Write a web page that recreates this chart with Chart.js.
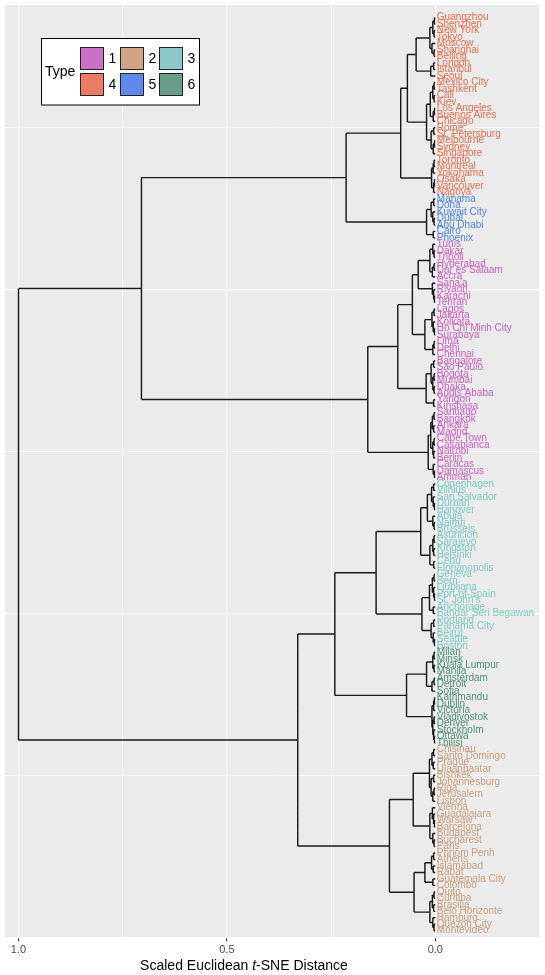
<!DOCTYPE html>
<html><head><meta charset="utf-8">
<script src="https://cdn.jsdelivr.net/npm/chart.js@4/dist/chart.umd.min.js"></script>
<style>html,body{margin:0;padding:0;background:#fff}canvas{display:block}</style>
</head><body>
<canvas id="c" width="545" height="975"></canvas>
<script>
// ---- leaf labels, grouped by type (top to bottom) ----
const type4Cities = ["Guangzhou","Shenzhen","New York","Tokyo","Moscow","Shanghai","Beijing","London","Istanbul","Seoul","Mexico City","Tashkent","Cali","Kiev","Los Angeles","Buenos Aires","Chicago","Rome","St. Petersburg","Melbourne","Sydney","Singapore","Toronto","Montreal","Yokohama","Osaka","Vancouver","Nagoya"];
const type5Cities = ["Manama","Doha","Kuwait City","Dubai","Abu Dhabi","Cairo","Phoenix"];
const type1Cities = ["Tunis","Dakar","Tripoli","Hyderabad","Dar es Salaam","Accra","Sana'a","Riyadh","Karachi","Tehran","Lagos","Jakarta","Kolkata","Ho Chi Minh City","Surabaya","Lima","Delhi","Chennai","Bangalore","Sao Paulo","Bogota","Mumbai","Dhaka","Addis Ababa","Yangon","Kinshasa","Santiago","Bangkok","Ankara","Madrid","Cape Town","Casablanca","Nairobi","Berlin","Caracas","Damascus","Amman"];
const type3Cities = ["Copenhagen","Vilnius","San Salvador","Durban","Hanover","Abuja","Naifati","Brussels","Asuncion","Sarajevo","Kingston","Helsinki","Cebu","Florianopolis","Geneva","Bern","Ljubljana","Port-of-Spain","St. John's","Anchorage","Bandar Seri Begawan","Portland","Panama City","Beirut","Seattle","Boston"];
const type6Cities = ["Milan","Minsk","Kuala Lumpur","Manila","Amsterdam","Detroit","Sofia","Kathmandu","Dublin","Victoria","Vladivostok","Denver","Stockholm","Ottawa","Tbilisi"];
const type2Cities = ["Chisinau","Santo Domingo","Prague","Ulaanbaatar","Bishkek","Johannesburg","Riga","Jerusalem","Lisbon","Vienna","Guadalajara","Warsaw","Barcelona","Budapest","Bucharest","Paris","Phnom Penh","Athens","Islamabad","Rabat","Guatemala City","Colombo","Quito","Curitiba","Brasilia","Belo Horizonte","Hamburg","Quezon City","Montevideo"];

// legend
const typeNames = ["1","2","3","4","5","6"];
const typeFill  = ["#C971C6","#D2A486","#8BCAC6","#EC7B63","#5E88E9","#6A9D89"];
const typeText  = ["#CD5FC2","#C9A17F","#7ECBC4","#E96F4F","#4D86E6","#4F9178"];

// ---- merge trees: [height, left, right]; numbers are leaf indices ----
const treeOrange = [0.083,
  [0.067,
    [0.046,
      [0.013, [0.006,[0.002,0,1],[0.003,2,3]], [0.008,4,[0.003,5,6]]],
      [0.011, [0.004,7,8], 9]],
    [0.021,
      [0.012, [0.006,[0.003,10,11],[0.003,12,13]], [0.005,[0.002,14,15],16]],
      [0.010, [0.004,17,18], [0.005,[0.002,19,20],21]]]],
  [0.009, [0.005,[0.003,22,23],24], [0.004,[0.002,25,26],27]]];
const treeBlue = [0.021, [0.010,[0.004,28,29],[0.006,30,[0.003,31,32]]], [0.005,33,34]];
const treePink = [0.162,
  [0.090,
    [0.055,
      [0.041, [0.013,[0.006,35,[0.003,36,37]],[0.007,[0.003,38,39],40]], [0.007,41,[0.004,42,[0.002,43,44]]]],
      [0.025, [0.008,[0.003,45,46],[0.005,47,[0.002,48,49]]], [0.006,[0.003,50,51],52]]],
    [0.022, [0.010,[0.004,53,54],[0.006,[0.003,55,56],[0.003,57,58]]], [0.004,59,60]]],
  [0.017, [0.011,[0.007,[0.003,61,62],[0.004,63,64]],[0.006,[0.003,65,66],[0.004,67,68]]], [0.005,69,[0.002,70,71]]]];
const treeTeal = [0.142,
  [0.035,
    [0.019, [0.009,[0.004,72,73],[0.005,74,[0.002,75,76]]], [0.006,77,[0.003,78,79]]],
    [0.013, [0.006,[0.003,80,81],[0.004,82,83]], [0.004,84,85]]],
  [0.032,
    [0.014, [0.007,[0.003,86,87],[0.004,88,[0.002,89,90]]], [0.005,91,92]],
    [0.010, [0.004,93,94], [0.005,95,[0.002,96,97]]]]];
const treeGreen = [0.069,
  [0.021, [0.006,[0.003,98,99],[0.003,100,101]], [0.008,[0.003,102,103],104]],
  [0.008, [0.004,[0.002,105,106],107], [0.006,[0.003,108,109],[0.004,110,[0.002,111,112]]]]];
const treeTan = [0.110,
  [0.053,
    [0.014, [0.008,[0.004,113,114],[0.005,115,116]], [0.010,[0.004,117,118],[0.006,[0.003,119,120],121]]],
    [0.013, [0.007,122,[0.004,123,[0.002,124,125]]], [0.006,126,[0.003,127,128]]]],
  [0.051,
    [0.025, [0.009,[0.004,129,130],[0.005,131,132]], [0.006,133,134]],
    [0.013, [0.007,[0.003,135,136],[0.004,137,138]], [0.006,139,[0.003,140,141]]]]];
const tree = [1.0, [0.705, [0.214, treeOrange, treeBlue], treePink], [0.330, [0.241, treeTeal, treeGreen], treeTan]];

const xTickValues = [-0.25, 0, 0.25, 0.5, 0.75, 1.0];
const yTickValues = [0, 25, 50, 75, 100, 125];

// ---- build ----
const groups = [[type4Cities,4],[type5Cities,5],[type1Cities,1],[type3Cities,3],[type6Cities,6],[type2Cities,2]];
const cities = [], cityType = [];
groups.forEach(([arr,t]) => arr.forEach(c => { cities.push(c); cityType.push(t); }));
const N = cities.length;
const leafPos = i => N - i;

const segPoints = [];
function layout(node){
  if (typeof node === 'number') return {y: leafPos(node), h: 0};
  const [h, a, b] = node;
  const L = layout(a), R = layout(b);
  segPoints.push({x:L.h,y:L.y},{x:h,y:L.y},{x:null,y:null});
  segPoints.push({x:R.h,y:R.y},{x:h,y:R.y},{x:null,y:null});
  segPoints.push({x:h,y:L.y},{x:h,y:R.y},{x:null,y:null});
  return {y:(L.y+R.y)/2, h};
}
layout(tree);

const FONT = '"Liberation Sans", Arial, Helvetica, sans-serif';
const isMajorX = v => Math.abs(Math.round(v*2) - v*2) < 1e-9;
const isMajorY = v => v % 50 === 0;

const panelPlugin = {
  id:'panel',
  beforeDraw(chart){
    const {ctx, chartArea:a} = chart;
    ctx.save();
    ctx.fillStyle = '#ffffff'; ctx.fillRect(0,0,chart.width,chart.height);
    ctx.fillStyle = '#EBEBEB'; ctx.fillRect(a.left,a.top,a.right-a.left,a.bottom-a.top);
    ctx.restore();
  },
  afterDatasetsDraw(chart){
    const {ctx} = chart, xs = chart.scales.x, ys = chart.scales.y;
    ctx.save();
    ctx.font = '10px ' + FONT;
    ctx.textBaseline = 'middle';
    ctx.textAlign = 'left';
    const x0 = xs.getPixelForValue(0) + 1.5;
    cities.forEach((c,i) => {
      ctx.fillStyle = typeText[cityType[i]-1];
      ctx.fillText(c, x0, ys.getPixelForValue(leafPos(i)));
    });
    ctx.restore();
  },
  afterDraw(chart){
    const {ctx} = chart;
    ctx.save();
    // legend
    ctx.fillStyle = '#fff'; ctx.strokeStyle = '#000'; ctx.lineWidth = 1;
    ctx.fillRect(41.5,38.5,158,66.5); ctx.strokeRect(41.5,38.5,158,66.5);
    ctx.fillStyle = '#000'; ctx.font = '14px ' + FONT; ctx.textBaseline = 'middle';
    ctx.fillText('Type', 45, 72);
    const colX = [80.5,120.5,159.5], rowY = [47.5,73.5];
    const grid = [1,2,3,4,5,6];
    grid.forEach((tt,k) => {
      const cx = colX[k%3], cy = rowY[Math.floor(k/3)];
      ctx.fillStyle = typeFill[tt-1];
      ctx.fillRect(cx,cy,23,22);
      ctx.strokeStyle = '#222'; ctx.strokeRect(cx,cy,23,22);
      ctx.fillStyle = '#000';
      ctx.fillText(typeNames[tt-1], cx+28, cy+11.5);
    });
    // axis title
    const parts = [['Scaled Euclidean ', 'normal'], ['t', 'italic'], ['-SNE Distance', 'normal']];
    let total = 0;
    parts.forEach(p => { ctx.font = p[1] + ' 14px ' + FONT; total += ctx.measureText(p[0]).width; });
    let x = 244 - total/2;
    ctx.fillStyle = '#000'; ctx.textBaseline = 'middle';
    parts.forEach(p => { ctx.font = p[1] + ' 14px ' + FONT; ctx.fillText(p[0], x, 966); x += ctx.measureText(p[0]).width; });
    ctx.restore();
  }
};

new Chart(document.getElementById('c'), {
  type:'line',
  data:{ datasets:[{ data: segPoints, borderColor:'#1a1a1a', borderWidth:1.45, pointRadius:0, tension:0, spanGaps:false, fill:false }]},
  options:{
    responsive:false, animation:false, parsing:true,
    layout:{ padding:{left:5,right:5,top:5,bottom:0} },
    plugins:{ legend:{display:false}, tooltip:{enabled:false} },
    scales:{
      x:{ type:'linear', reverse:true, min:-0.2512, max:1.0324,
          afterBuildTicks: s => { s.ticks = xTickValues.map(v => ({value:v})); },
          afterFit: s => { s.height = 37.8; },
          border:{display:false},
          grid:{ color:'#ffffff', lineWidth: c => (c.tick && isMajorX(c.tick.value)) ? 1.2 : 0.6,
                 drawTicks:true, tickLength:4, tickWidth:1.1,
                 tickColor: c => (c.tick && isMajorX(c.tick.value)) ? '#333333' : 'rgba(0,0,0,0)' },
          ticks:{ autoSkip:false, maxRotation:0, padding:2, color:'#4D4D4D', font:{size:11, family:FONT},
                  callback: v => isMajorX(v) ? Number(v).toFixed(1) : '' } },
      y:{ type:'linear', min:0, max:143.96,
          afterBuildTicks: s => { s.ticks = yTickValues.map(v => ({value:v})); },
          afterFit: s => { s.width = 0; },
          border:{display:false},
          grid:{ color:'#ffffff', lineWidth: c => (c.tick && isMajorY(c.tick.value)) ? 1.2 : 0.6, drawTicks:false },
          ticks:{ display:false } }
    }
  },
  plugins:[panelPlugin]
});
</script>
</body></html>
